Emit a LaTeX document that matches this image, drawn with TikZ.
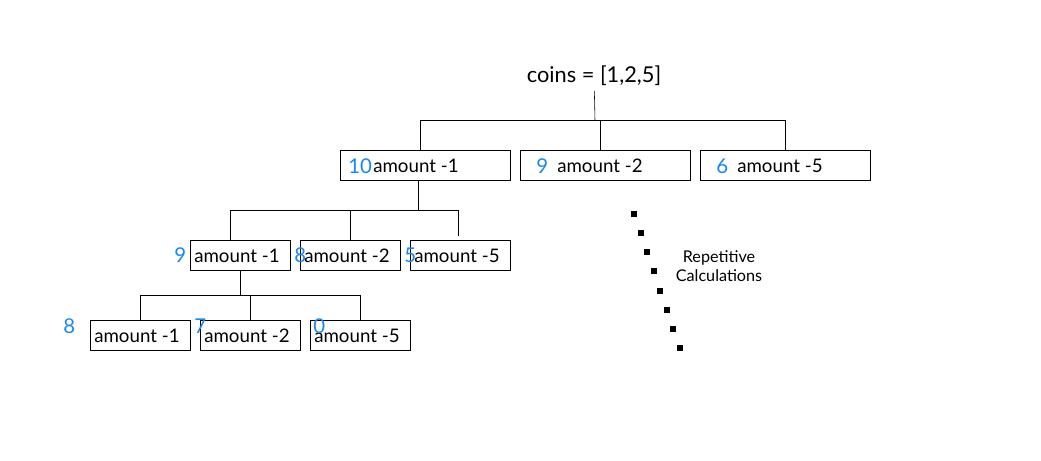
\documentclass[tikz,border=0pt]{standalone}
\usepackage{fontspec}
\setmainfont{Lato}
\usepackage{xcolor}

\begin{document}
\begin{tikzpicture}[x=0.025cm,y=-0.025cm,
  box/.style={draw,rectangle,minimum height=0.75cm,inner sep=0},
  amt/.style={anchor=west,inner sep=0,font=\fontsize{13.3}{15}\selectfont},
  cnt/.style={anchor=west,inner sep=0,text=countblue,font=\fontsize{14.5}{16}\selectfont}]
\definecolor{countblue}{HTML}{1A88F0}
\useasboundingbox (0,0) rectangle (1041,461);
\node (root) at (594,76) {\fontsize{15.5}{17}\selectfont coins = [1,2,5]};
% first level
  \foreach \nm/\xc/\sub/\tx/\num/\nx in {b1/425/1/373/10/348,b2/605/2/557/9/536,b3/785/5/737/6/716}
  {  \node [box,minimum width=4.25cm] (\nm) at (\xc,165) {};
     \node [amt] (\nm t) at (\tx,166) {amount -\sub};
     \node [cnt] (\nm n) at (\nx,166) {\num};}
\coordinate (j1) at (595,120);
\draw (root) -- (j1);
\draw ([xshift=-0.125cm]b1.north) -- ([xshift=-0.125cm]b1.north |- j1) -- (b3.north |- j1) -- (b3.north);
\draw ([xshift=-0.125cm]b2.north) -- ([xshift=-0.125cm]b2.north |- j1);
% second level
  \foreach \nm/\xc/\sub/\num/\nx in {c1/240/1/9/174,c2/350/2/8/294,c3/460/5/5/404}
  {  \node [box,minimum width=2.5cm] (\nm) at (\xc,255) {};
     \node [amt] (\nm t) at (\xc-46,256) {amount -\sub};
     \node [cnt] (\nm n) at (\nx,255) {\num};}
\coordinate (j2) at (418,210);
\draw (j2 |- b1.south) -- (j2);
\draw ([xshift=-0.25cm]c1.north) -- ([xshift=-0.25cm]c1.north |- j2) -- ([xshift=-0.05cm]c3.north |- j2) -- ([xshift=-0.05cm,yshift=0.1cm]c3.north);
\draw (c2.north) -- (c2.north |- j2);
% third level
  \foreach \nm/\xc/\sub/\num/\nx/\ny in {d1/140/1/8/63/326,d2/250/2/7/194/326,d3/360/5/0/313/326}
  {  \node [box,minimum width=2.5cm] (\nm) at (\xc,335) {};
     \node [amt] (\nm t) at (\xc-46,336) {amount -\sub};
     \node [cnt] (\nm n) at (\nx,\ny) {\num};}
\coordinate (j3) at (240,295);
\draw (c1.south) -- (j3);
\draw (d1.north) -- (d1.north |- j3) -- (d3.north |- j3) -- (d3.north);
\draw (d2.north) -- (d2.north |- j3);
% dotted mark
  \foreach \i in {0,...,7}
  {  \fill (634+\i*6.57-3,214+\i*19.14-3) rectangle ++(6,6);}
\node [align=center,font=\fontsize{11.5}{14}\selectfont] (rep) at (719,266) {Repetitive\\Calculations};
\end{tikzpicture}
\end{document}
